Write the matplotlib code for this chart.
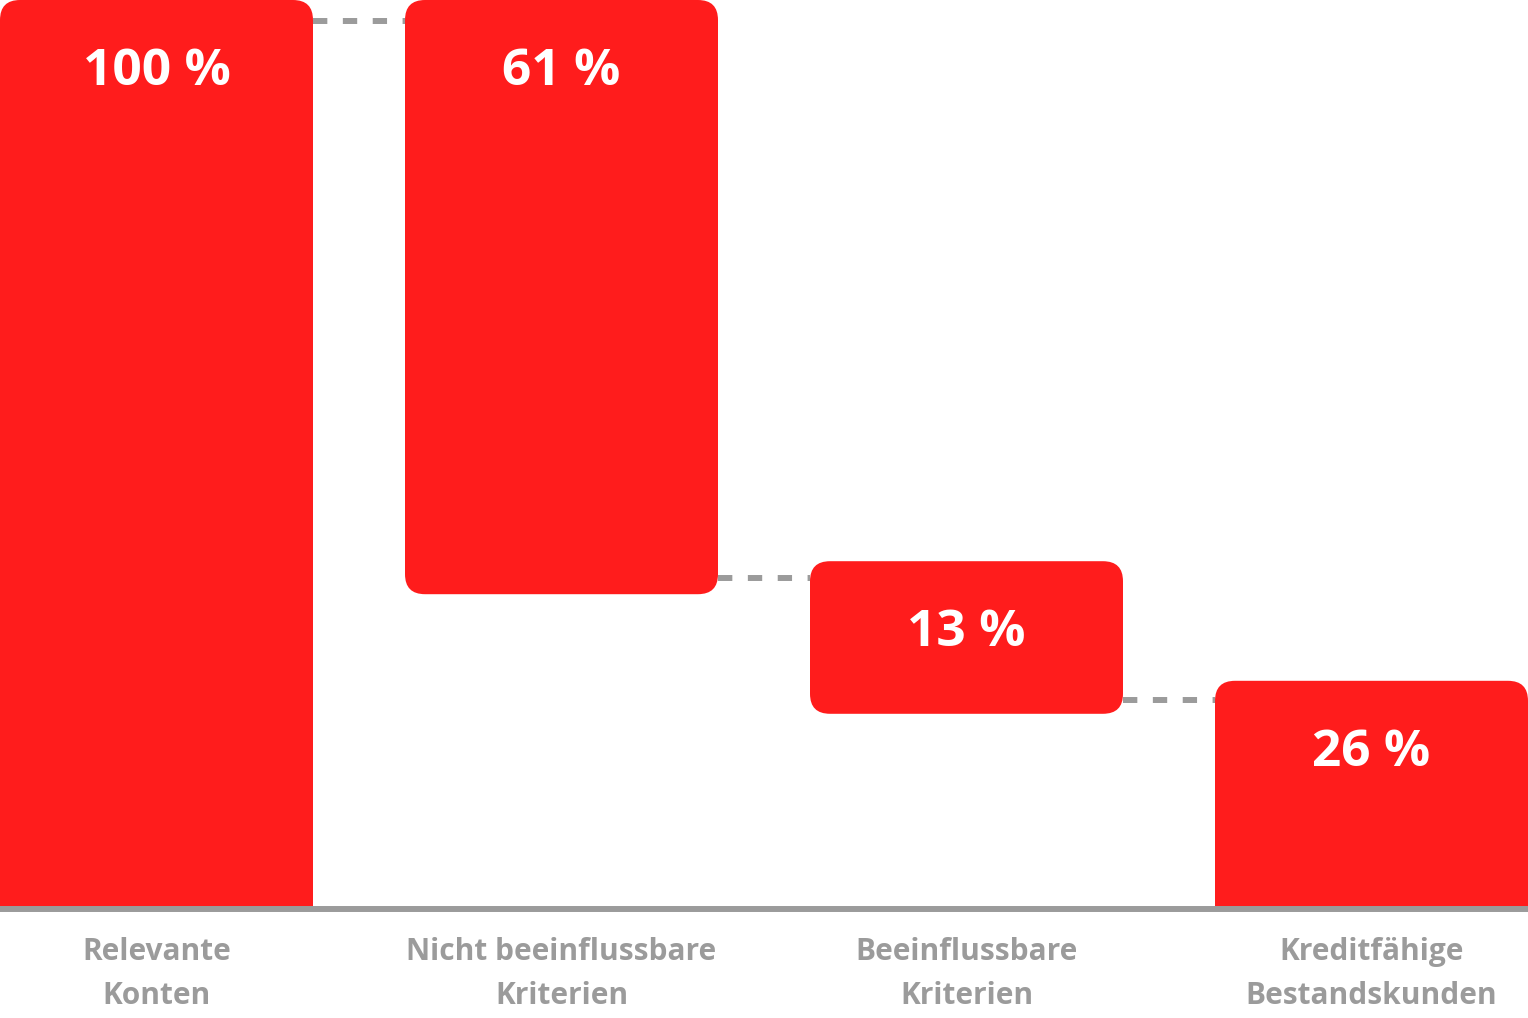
import matplotlib.pyplot as plt
from matplotlib.patches import FancyBboxPatch

categories = ["Relevante\nKonten", "Nicht beeinflussbare\nKriterien",
              "Beeinflussbare\nKriterien", "Kreditfähige\nBestandskunden"]
values = [100, 61, 13, 26]
labels = ["100 %", "61 %", "13 %", "26 %"]

RED = "#ff1c1c"
GREY = "#9b9b9b"
W, H = 1528, 1018

fig = plt.figure(figsize=(W / 100, H / 100), dpi=100)
# axes spans full width, top at 0 px, baseline at 908 px
ax = fig.add_axes([0, 1 - 908 / H, 1, 908 / H])
width = 313 / 405
px_x = 1 / 405
px_y = 100 / 920  # zero sits a little below the drawn baseline
ax.set_xlim(-width / 2, 3 + width / 2)
ax.set_ylim(100 - 908 * px_y, 100)
ax.axis("off")

# waterfall: first and last bars sit on the baseline, the rest float
tops, bottoms = [], []
level = 0
for i, v in enumerate(values):
    if i == 0 or i == len(values) - 1:
        b, t = 0, v
        level = v
    else:
        t = level
        b = level - v
        level = b
    tops.append(t)
    bottoms.append(b)

pad = 33 * px_y  # floating bars reach a bit below their end value
radius = 20 * px_x
for i in range(len(values)):
    b = bottoms[i]
    if 0 < i < len(values) - 1:
        b = b - pad
    else:
        b = b - 5  # round corners hidden below the baseline
    patch = FancyBboxPatch((i - width / 2, b), width, tops[i] - b,
                           boxstyle=f"round,pad=0,rounding_size={radius}",
                           mutation_aspect=px_y / px_x,
                           fc=RED, ec="none", clip_on=True)
    ax.add_patch(patch)
    ax.text(i, tops[i] - 72 * px_y, labels[i], color="white", fontsize=37,
            fontweight="bold", family="Open Sans", ha="center", va="center")

# dotted connectors between bars
conn = [tops[1] - 21 * px_y, tops[2] - 17 * px_y, tops[3] - 19 * px_y]
for i, y in enumerate(conn):
    ax.plot([i + width / 2, i + 1 - width / 2], [y, y], color=GREY, lw=4.3,
            dashes=(2.4, 2.6), solid_capstyle="butt", dash_capstyle="butt")

fig.add_artist(plt.Line2D([0, 1], [1 - 909 / H] * 2, color=GREY, lw=4.3))

for i, c in enumerate(categories):
    fig.text((i * 405 + 313 / 2) / W, 1 - 974 / H, c, color=GREY, fontsize=21.5,
             fontweight="bold", family="Open Sans", ha="center", va="center",
             linespacing=1.6)

fig.savefig("out.png", dpi=100)
